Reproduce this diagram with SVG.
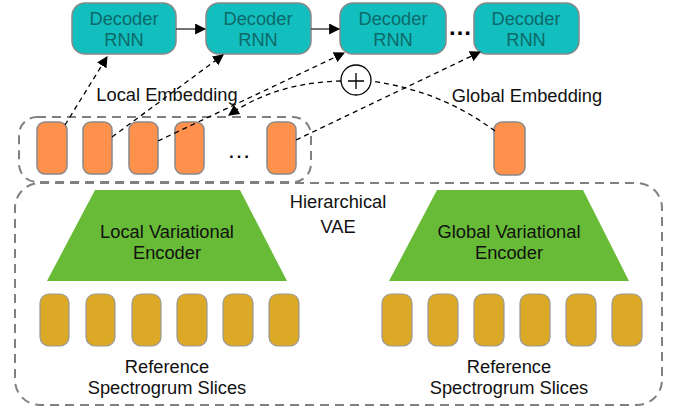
<svg xmlns="http://www.w3.org/2000/svg" width="679" height="412" viewBox="0 0 679 412">
<defs>
<marker id="ah" viewBox="0 0 10 10" refX="9" refY="5" markerWidth="11" markerHeight="11" markerUnits="userSpaceOnUse" orient="auto">
<path d="M0,0 L10,5 L0,10 z" fill="#000"/>
</marker>
<style>
text{font-family:"Liberation Sans",Arial,sans-serif;font-size:18.3px;fill:#111;text-anchor:middle}
.dec rect{fill:#13BEBE;stroke:#888;stroke-width:1.5}
.dec text{fill:#0D6A6A}
.emb{fill:#FF914D;stroke:#888;stroke-width:1.5}
.slice{fill:#DCA927;stroke:#999;stroke-width:1.2}
.enc{fill:#67BB37}
.grp{fill:none;stroke:#808080;stroke-width:2;stroke-dasharray:9,6}
.dash{fill:none;stroke:#000;stroke-width:1.3;stroke-dasharray:5,4}
.solid{fill:none;stroke:#444;stroke-width:1.5}
.dots{font-size:24px;font-weight:bold;fill:#000}
</style>
</defs>
<rect width="679" height="412" fill="#fff"/>

<g id="local-embedding-group">
<rect class="grp" x="19" y="117" width="292" height="65" rx="18"/>
</g>
<g id="hierarchical-vae">
<rect class="grp" x="15" y="183" width="647" height="222" rx="25"/>
<text x="338" y="208">Hierarchical</text>
<text x="338" y="233">VAE</text>
</g>

<g id="decoder1" class="dec"><rect x="72" y="3" width="104" height="51" rx="13"/><text x="124" y="25">Decoder</text><text x="124" y="46">RNN</text></g>
<g id="decoder2" class="dec"><rect x="206" y="3" width="105" height="51" rx="13"/><text x="258" y="25">Decoder</text><text x="258" y="46">RNN</text></g>
<g id="decoder3" class="dec"><rect x="340" y="3" width="106" height="51" rx="13"/><text x="393" y="25">Decoder</text><text x="393" y="46">RNN</text></g>
<g id="decoder4" class="dec"><rect x="474" y="3" width="105" height="51" rx="13"/><text x="526" y="25">Decoder</text><text x="526" y="46">RNN</text></g>
<g id="decoder-dots"><text class="dots" x="460" y="35">…</text></g>

<g id="local-embeddings">
<rect class="emb" x="37" y="122" width="30" height="52" rx="8"/>
<rect class="emb" x="83" y="122" width="29" height="52" rx="8"/>
<rect class="emb" x="129" y="122" width="29" height="52" rx="8"/>
<rect class="emb" x="175" y="122" width="29" height="52" rx="8"/>
<text class="dots" x="239" y="158" style="font-weight:normal">…</text>
<rect class="emb" x="267" y="122" width="29" height="52" rx="8"/>
<text x="167" y="101">Local Embedding</text>
</g>

<g id="global-embedding">
<rect class="emb" x="494" y="122" width="31" height="53" rx="8"/>
<text x="527" y="102">Global Embedding</text>
</g>

<g id="sum">
<circle cx="356" cy="80" r="15" fill="#fff" stroke="#000" stroke-width="1.3"/>
<path d="M348,81 H364 M356,73 V89" stroke="#000" stroke-width="1.3"/>
</g>

<g id="local-encoder">
<polygon class="enc" points="95,190 240,190 287,281 47,281"/>
<text x="167" y="238">Local Variational</text>
<text x="167" y="259">Encoder</text>
</g>
<g id="global-encoder">
<polygon class="enc" points="437,190 583,190 629,281 389,281"/>
<text x="509" y="238">Global Variational</text>
<text x="509" y="259">Encoder</text>
</g>

<g id="local-slices">
<rect class="slice" x="40" y="294" width="29" height="52" rx="9"/>
<rect class="slice" x="86" y="294" width="29" height="52" rx="9"/>
<rect class="slice" x="132" y="294" width="29" height="52" rx="9"/>
<rect class="slice" x="177" y="294" width="30" height="52" rx="9"/>
<rect class="slice" x="223" y="294" width="30" height="52" rx="9"/>
<rect class="slice" x="269" y="294" width="30" height="52" rx="9"/>
<text x="167" y="373">Reference</text>
<text x="167" y="394">Spectrogrum Slices</text>
</g>
<g id="global-slices">
<rect class="slice" x="382" y="294" width="30" height="52" rx="9"/>
<rect class="slice" x="428" y="294" width="30" height="52" rx="9"/>
<rect class="slice" x="474" y="294" width="30" height="52" rx="9"/>
<rect class="slice" x="520" y="294" width="30" height="52" rx="9"/>
<rect class="slice" x="566" y="294" width="30" height="52" rx="9"/>
<rect class="slice" x="612" y="294" width="30" height="52" rx="9"/>
<text x="509" y="373">Reference</text>
<text x="509" y="394">Spectrogrum Slices</text>
</g>

<g id="connectors">
<line class="solid" x1="176" y1="29" x2="205" y2="29" marker-end="url(#ah)"/>
<line class="solid" x1="311" y1="29" x2="339" y2="29" marker-end="url(#ah)"/>
<line class="dash" x1="65" y1="125" x2="107" y2="57" marker-end="url(#ah)"/>
<line class="dash" x1="112" y1="137" x2="223" y2="55" marker-end="url(#ah)"/>
<line class="dash" x1="158" y1="141" x2="344" y2="53" marker-end="url(#ah)"/>
<line class="dash" x1="296" y1="140" x2="480" y2="52" marker-end="url(#ah)"/>
<path class="dash" d="M341,81 C300,82 262,92 229,115" marker-end="url(#ah)"/>
<path class="dash" d="M495,131 C460,105 420,88 371,81"/>
</g>
</svg>
